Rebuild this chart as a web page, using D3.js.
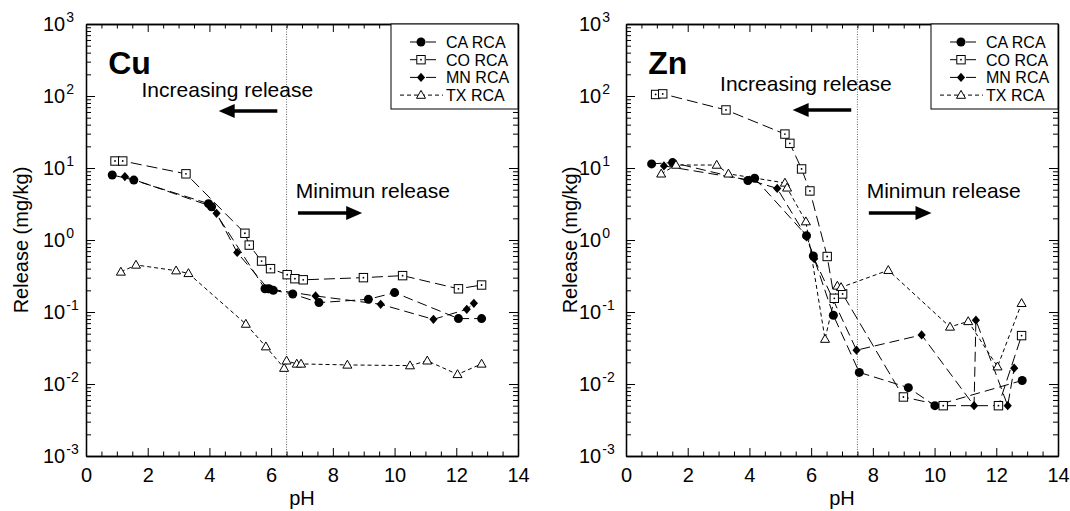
<!DOCTYPE html>
<html>
<head>
<meta charset="utf-8">
<script src="https://cdn.jsdelivr.net/npm/d3@7"></script>
<style>
body { margin: 0; background: #fff; }
svg { font-family: 'Liberation Sans', Arial, sans-serif; }
</style>
</head>
<body>
<svg></svg>
<script>
// ---- data (pH, release mg/kg) ----
let cuCaPH  = [0.85, 1.55, 3.97, 4.07, 5.8, 5.93, 6.07, 6.7, 7.55, 9.15, 10.0, 12.07, 12.82]
let cuCaVal = [8.0, 6.8, 3.2, 2.9, 0.21, 0.21, 0.20, 0.178, 0.135, 0.15, 0.186, 0.081, 0.081]
let cuCoPH  = [0.94, 1.19, 3.24, 5.15, 5.29, 5.69, 5.98, 6.52, 6.77, 7.04, 8.99, 10.26, 12.07, 12.82]
let cuCoVal = [12.5, 12.5, 8.3, 1.24, 0.85, 0.51, 0.40, 0.33, 0.29, 0.28, 0.30, 0.32, 0.21, 0.237]
let cuMnPH  = [1.26, 4.0, 4.23, 4.9, 5.9, 7.44, 9.55, 11.26, 12.34, 12.57]
let cuMnVal = [7.6, 3.0, 2.35, 0.67, 0.21, 0.167, 0.128, 0.079, 0.109, 0.132]
let cuTxPH  = [1.13, 1.62, 2.92, 3.32, 5.18, 5.83, 6.42, 6.5, 6.83, 6.97, 8.47, 10.5, 11.06, 12.04, 12.82]
let cuTxVal = [0.36, 0.45, 0.375, 0.344, 0.068, 0.033, 0.0166, 0.021, 0.019, 0.019, 0.0184, 0.018, 0.021, 0.0136, 0.019]

let znCaPH  = [0.83, 1.51, 3.95, 4.17, 5.85, 6.07, 6.72, 7.56, 9.15, 10.01, 12.84]
let znCaVal = [11.4, 11.9, 6.7, 7.2, 1.15, 0.6, 0.09, 0.0145, 0.0089, 0.005, 0.0112]
let znCoPH  = [0.96, 1.19, 3.24, 5.15, 5.31, 5.69, 5.96, 6.52, 6.75, 7.02, 8.99, 10.28, 12.07, 12.82]
let znCoVal = [105, 107, 64, 29.6, 22, 9.7, 4.8, 0.59, 0.155, 0.178, 0.0066, 0.005, 0.005, 0.047]
let znMnPH  = [1.23, 4.0, 4.9, 5.85, 6.1, 7.47, 9.58, 11.28, 11.34, 12.37, 12.58]
let znMnVal = [10.7, 6.8, 5.2, 1.1, 0.55, 0.0295, 0.048, 0.005, 0.077, 0.005, 0.0166]
let znTxPH  = [1.14, 1.62, 2.94, 3.32, 5.15, 5.22, 5.83, 6.45, 6.85, 6.97, 8.5, 10.5, 11.09, 12.04, 12.82]
let znTxVal = [8.3, 11.0, 11.0, 8.3, 6.2, 5.3, 1.8, 0.042, 0.23, 0.22, 0.38, 0.062, 0.074, 0.0174, 0.132]

let seriesNames = ['CA RCA', 'CO RCA', 'MN RCA', 'TX RCA']
let xTicks = [0, 2, 4, 6, 8, 10, 12, 14]
let xMinor = [0.5, 1, 1.5, 2.5, 3, 3.5, 4.5, 5, 5.5, 6.5, 7, 7.5, 8.5, 9, 9.5, 10.5, 11, 11.5, 12.5, 13, 13.5]
let yDecades = [-3, -2, -1, 0, 1, 2, 3]

let width = 1070
let height = 511
let plotTop = 24
let plotBottom = 456

let svg = d3.select('svg').attr('width', width).attr('height', height)

let yScale = d3.scaleLog().domain([1e-3, 1e3]).range([plotBottom, plotTop])

let styles = [
    { marker: 'circle',   dash: '10,5' },
    { marker: 'square',   dash: '11,5' },
    { marker: 'diamond',  dash: '10,5' },
    { marker: 'triangle', dash: '4,3' }
]

let panels = [
    { title: 'Cu', left: 86,  cut: 6.5, labelX: 43,  yTitleX: 21,
      series: [[cuCaPH, cuCaVal], [cuCoPH, cuCoVal], [cuMnPH, cuMnVal], [cuTxPH, cuTxVal]],
      incText: 1.8, incY: 97, incArrow: [6.2, 4.3], incArrowY: 111,
      minText: 6.8, minY: 198, minArrow: [6.87, 8.95], minArrowY: 213 },
    { title: 'Zn', left: 626, cut: 7.5, labelX: 579, yTitleX: 570,
      series: [[znCaPH, znCaVal], [znCoPH, znCoVal], [znMnPH, znMnVal], [znTxPH, znTxVal]],
      incText: 3.05, incY: 91, incArrow: [7.3, 5.4], incArrowY: 110,
      minText: 7.8, minY: 198, minArrow: [7.87, 9.9], minArrowY: 213 }
]

let drawMarker = (g, type, x, y) => {
    if (type === 'circle') {
        g.append('circle').attr('cx', x).attr('cy', y).attr('r', 4.5).attr('fill', '#000')
    } else if (type === 'square') {
        g.append('rect').attr('x', x - 4.2).attr('y', y - 4.2).attr('width', 8.4).attr('height', 8.4)
            .attr('fill', '#fff').attr('stroke', '#000').attr('stroke-width', 1)
        g.append('circle').attr('cx', x).attr('cy', y).attr('r', 0.9).attr('fill', '#000')
    } else if (type === 'diamond') {
        g.append('path').attr('d', `M${x},${y - 4.6}L${x + 4.1},${y}L${x},${y + 4.6}L${x - 4.1},${y}Z`)
            .attr('fill', '#000')
    } else {
        g.append('path').attr('d', `M${x},${y - 4.7}L${x + 4.5},${y + 3.2}L${x - 4.5},${y + 3.2}Z`)
            .attr('fill', '#fff').attr('stroke', '#000').attr('stroke-width', 1)
    }
}

let drawArrow = (g, x1, x2, y) => {
    let dir = x2 > x1 ? 1 : -1
    let base = x2 - dir * 16
    g.append('line').attr('x1', x1).attr('x2', base + dir * 1).attr('y1', y).attr('y2', y)
        .attr('stroke', '#000').attr('stroke-width', 3.6)
    g.append('path').attr('d', `M${x2},${y}L${base},${y - 7}L${base},${y + 7}Z`).attr('fill', '#000')
}

let drawPanel = (p) => {
    let xScale = d3.scaleLinear().domain([0, 14]).range([p.left, p.left + 432])
    let g = svg.append('g')

    // cut-off pH line
    g.append('line')
        .attr('x1', xScale(p.cut)).attr('x2', xScale(p.cut))
        .attr('y1', plotTop).attr('y2', plotBottom)
        .attr('stroke', '#666').attr('stroke-width', 1).attr('stroke-dasharray', '1,1.5')

    // series lines
    let line = d3.line().x(d => xScale(d[0])).y(d => yScale(d[1]))
    p.series.forEach((s, i) => {
        let pts = s[0].map((ph, j) => [ph, s[1][j]])
        g.append('path')
            .attr('d', line(pts))
            .attr('fill', 'none')
            .attr('stroke', '#000')
            .attr('stroke-width', 1)
            .attr('stroke-dasharray', styles[i].dash)
    })
    // markers
    p.series.forEach((s, i) => {
        s[0].forEach((ph, j) => drawMarker(g, styles[i].marker, xScale(ph), yScale(s[1][j])))
    })

    // axes
    let right = p.left + 432
    let axes = g.append('g')
    axes.append('g').attr('transform', `translate(0,${plotBottom})`)
        .call(d3.axisBottom(xScale).tickValues(xMinor).tickSize(-4.5).tickSizeOuter(0).tickFormat(''))
    let bx = axes.append('g').attr('transform', `translate(0,${plotBottom})`)
        .call(d3.axisBottom(xScale).tickValues(xTicks).tickSize(-8).tickSizeOuter(0).tickPadding(12).tickFormat(d3.format('d')))
    bx.selectAll('text').attr('font-size', 20).attr('font-family', 'Liberation Sans, Arial, sans-serif').attr('fill', '#000')
    axes.append('g').attr('transform', `translate(0,${plotTop})`)
        .call(d3.axisTop(xScale).tickValues(xMinor).tickSize(-4.5).tickSizeOuter(0).tickFormat(''))
    axes.append('g').attr('transform', `translate(0,${plotTop})`)
        .call(d3.axisTop(xScale).tickValues(xTicks).tickSize(-8).tickSizeOuter(0).tickFormat(''))

    let yMinor = []
    yDecades.slice(0, -1).forEach(d => {
        [2, 3, 4, 5, 6, 7, 8, 9].forEach(m => yMinor.push(m * Math.pow(10, d)))
    })
    let yMajor = yDecades.map(d => Math.pow(10, d))
    axes.append('g').attr('transform', `translate(${p.left},0)`)
        .call(d3.axisLeft(yScale).tickValues(yMinor).tickSize(-5).tickSizeOuter(0).tickFormat(''))
    axes.append('g').attr('transform', `translate(${p.left},0)`)
        .call(d3.axisLeft(yScale).tickValues(yMajor).tickSize(-9).tickSizeOuter(0).tickFormat(''))
    axes.append('g').attr('transform', `translate(${right},0)`)
        .call(d3.axisRight(yScale).tickValues(yMinor).tickSize(-5).tickSizeOuter(0).tickFormat(''))
    axes.append('g').attr('transform', `translate(${right},0)`)
        .call(d3.axisRight(yScale).tickValues(yMajor).tickSize(-9).tickSizeOuter(0).tickFormat(''))
    axes.selectAll('path.domain').attr('stroke', '#000').attr('stroke-width', 1.3)
    axes.selectAll('.tick line').attr('stroke', '#000').attr('stroke-width', 1)

    // y tick labels 10^n
    yDecades.forEach(d => {
        let t = g.append('text')
            .attr('x', p.labelX)
            .attr('y', yScale(Math.pow(10, d)) + 7)
            .attr('font-size', 20)
        t.append('tspan').text('10')
        t.append('tspan').attr('font-size', 14).attr('dx', 1).attr('dy', -9).text(d)
    })

    // axis titles
    g.append('text')
        .attr('x', (p.left + right) / 2).attr('y', 505)
        .attr('text-anchor', 'middle').attr('font-size', 20)
        .text('pH')
    g.append('text')
        .attr('transform', `translate(${p.yTitleX + 7},240) rotate(-90)`)
        .attr('text-anchor', 'middle').attr('font-size', 20)
        .text('Release (mg/kg)')

    // panel title
    g.append('text')
        .attr('x', xScale(0.72)).attr('y', 74)
        .attr('font-size', 32).attr('font-weight', 'bold')
        .text(p.title)

    // annotations
    g.append('text').attr('x', xScale(p.incText)).attr('y', p.incY)
        .attr('font-size', 21).text('Increasing release')
    drawArrow(g, xScale(p.incArrow[0]), xScale(p.incArrow[1]), p.incArrowY)
    g.append('text').attr('x', xScale(p.minText)).attr('y', p.minY)
        .attr('font-size', 21).text('Minimun release')
    drawArrow(g, xScale(p.minArrow[0]), xScale(p.minArrow[1]), p.minArrowY)

    // legend
    let lg = g.append('g').attr('transform', `translate(${right - 127},${plotTop})`)
    lg.append('rect').attr('width', 127).attr('height', 85)
        .attr('fill', '#fff').attr('stroke', '#000').attr('stroke-width', 1)
    seriesNames.forEach((name, i) => {
        let y = 18 + i * 17.7
        let x1 = i === 3 ? 9 : 19
        let x2 = i === 3 ? 52 : 50
        lg.append('line').attr('x1', x1).attr('x2', x2).attr('y1', y).attr('y2', y)
            .attr('stroke', '#000').attr('stroke-width', 1)
            .attr('stroke-dasharray', i === 3 ? '4,3' : '10,6')
        drawMarker(lg, styles[i].marker, 30, y)
        lg.append('text').attr('x', 55).attr('y', y + 6)
            .attr('font-size', 16).text(name)
    })
}

panels.forEach(p => drawPanel(p))
</script>
</body>
</html>
